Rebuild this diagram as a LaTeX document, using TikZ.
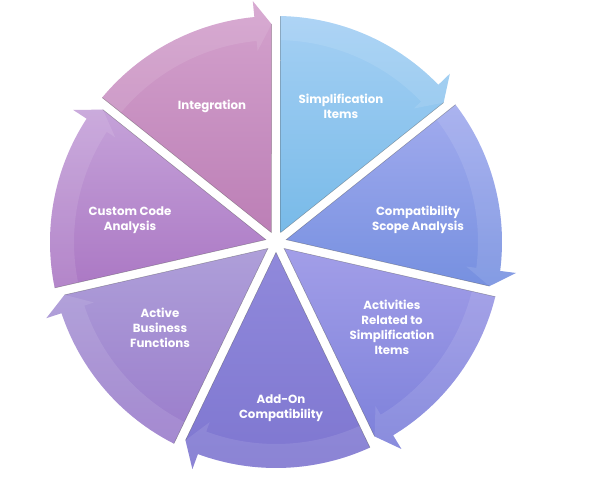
\documentclass[tikz,border=0pt]{standalone}
\usepackage{fontspec}
\setmainfont{Poppins}
\definecolor{c0t}{HTML}{A5D0F4}\definecolor{c0b}{HTML}{78BAE8}
\definecolor{c1t}{HTML}{A2ABEE}\definecolor{c1b}{HTML}{7690E0}
\definecolor{c2t}{HTML}{A29EE8}\definecolor{c2b}{HTML}{7C80DA}
\definecolor{c3t}{HTML}{9089DB}\definecolor{c3b}{HTML}{7E76D0}
\definecolor{c4t}{HTML}{AE9FD9}\definecolor{c4b}{HTML}{9A7CCB}
\definecolor{c5t}{HTML}{C5A2D9}\definecolor{c5b}{HTML}{AB78C4}
\definecolor{c6t}{HTML}{D4A2CD}\definecolor{c6b}{HTML}{BC7FB6}
\begin{document}
\begin{tikzpicture}[x=1pt,y=1pt,
  lbl/.style={text=white,font=\fontsize{11.8}{15}\selectfont\bfseries,align=center,inner sep=0pt},
  edgeline/.style={draw=black!70,draw opacity=0.45,line width=0.5pt}]
\useasboundingbox (0,0) rectangle (592,499);
\def\R{226}
\begin{scope}[shift={(276,257)}]
\foreach \i in {0,...,6}{
  \pgfmathsetmacro\a{90-51.4286*\i}
  \pgfmathsetmacro\b{\a-51.4286}
  \pgfmathsetmacro\m{(\a+\b)/2}
  \pgfmathsetmacro\as{\a-1.14}
  \pgfmathsetmacro\asb{\a-1.28}
  \pgfmathsetmacro\bs{\b+5.5}
  \pgfmathsetmacro\bt{\b+1.18}
  \pgfmathsetmacro\Ro{\R+16}
  \pgfmathsetmacro\Rt{\R-8}
  \pgfmathsetmacro\Ri{\R-34}
  \pgfmathsetmacro\Rb{\R-24}
  \shade[top color=c\i t, bottom color=c\i b]
    (\m:10.4) -- (\as:\R) arc[start angle=\as, end angle=\bs, radius=\R]
    -- (\bs:\Ro) -- (\bt:\Rt) -- cycle;
  \fill[white, opacity=0.1]
    (\as:\R) arc[start angle=\as, end angle=\bs, radius=\R]
    -- (\bs:\Ro) -- (\bt:\Rt) -- (\bs:\Ri) -- (\bs:\Rb)
    arc[start angle=\bs, end angle=\asb, radius=\Rb] -- cycle;
  \draw[edgeline] (\as:\R) -- (\m:10.4) -- (\bt:\Rt);
}
\end{scope}
\node[lbl] (simp) at (341,393) {Simplification\\Items};
\node[lbl] (comp) at (418,279) {Compatibility\\Scope Analysis};
\node[lbl] (act)  at (392,172) {Activities\\Related to\\Simplification\\Items};
\node[lbl] (addon) at (281,91) {Add-On\\Compatibility};
\node[lbl] (abf) at (160,171) {Active\\Business\\Functions};
\node[lbl] (ccode) at (130,279) {Custom Code\\Analysis};
\node[lbl] (integ) at (212,393) {Integration};
\end{tikzpicture}
\end{document}
